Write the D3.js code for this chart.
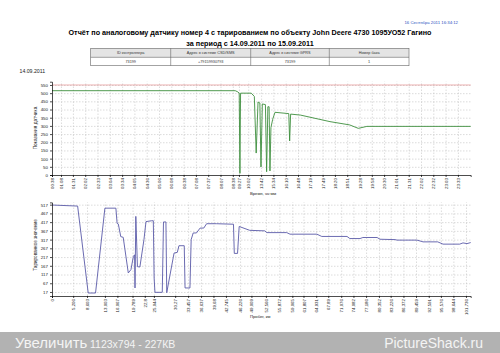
<!DOCTYPE html>
<html lang="ru">
<head>
<meta charset="utf-8">
<title>Отчёт по аналоговому датчику</title>
<script src="https://cdn.jsdelivr.net/npm/d3@7"></script>
<style>
  body { margin: 0; background: #fff; }
  svg { display: block; font-family: "Liberation Sans", Arial, sans-serif; }
  .grid line { stroke: #c4c4c4; stroke-dasharray: 1.5,1.5; stroke-width: 0.6; }
  .grid path { display: none; }
  .ax path, .ax line { stroke: #000; stroke-width: 0.7; }
  .ax text { font-size: 4.4px; fill: #222; }
</style>
</head>
<body>
<script>
// ---- data ----
var reportDate = "16 Сентябрь 2011  16:34:12";
var titleLine1 = "Отчёт по аналоговому датчику номер 4 с тарированием по объекту John Deere 4730 1095УО52 Гагино";
var titleLine2 = "за период с 14.09.2011 по 15.09.2011";
var tableHead = ["ID контроллера", "Адрес в системе CSD/SMS", "Адрес в системе GPRS", "Номер бака"];
var tableRow = ["73199", "+79159930793", "73199", "1"];

// top chart: time axis (labels sit at slot positions along the axis)
var timeLabels = ["00:38","01:08","01:31","02:02","02:33","03:04","03:34","04:05","04:36","05:06",
  "06:08","06:38","07:08","07:37","08:07","08:38","09:27","10:02","13:42","15:34","16:10","16:48",
  "17:19","17:49","18:20","18:51","19:28","19:58","20:30","21:01","21:31","22:02","22:32","23:03","23:33"];
var timeSlots = [0,0.73,1.7,2.7,3.7,4.7,5.7,6.7,7.7,8.7,9.7,10.7,11.7,12.7,13.7,14.7,15.2,15.95,
  17.0,18.0,19.0,20.0,21.0,22.0,23.0,24.0,25.0,26.0,27.0,28.0,29.0,30.0,31.0,32.0,33.0];
var timeMax = 34.04;
var rawTicks = [0,50,100,150,200,250,300,350,400,450,500,550];
var rawLimit = 550;
var rawX = [0,14.9,15.1,15.22,15.28,15.33,16.2,16.45,16.6,16.75,16.9,16.99,17.1,17.35,17.45,17.55,
  17.65,17.72,17.8,17.94,18.13,19.25,19.32,19.4,20.2,22.6,24.2,24.9,25.6,34.04];
var rawY = [515,515,508,500,10,500,500,480,134,446,440,49,434,430,20,417,417,25,290,340,383,375,
  208,372,366,326,306,285,297,297];

// bottom chart: mileage axis
var kmTicks = [0,5.206,8.603,13.003,16.067,19.789,22.8,25.044,30.27,33.457,36.637,39.68,42.745,46.226,
  49.009,52.566,55.872,59.065,61.807,64.931,67.89,71.076,74.082,77.186,80.352,83.226,86.372,89.459,
  92.591,95.576,98.644,101.736];
var kmMax = 102.9;
var calTicks = [17,67,117,167,217,267,317,367,417,467,517];
var calKm = [0,6.3,8.9,10.7,13.0,15.7,16.0,16.3,16.9,17.5,18.75,19.4,20.0,20.3,20.4,20.6,21.0,21.6,
  22.6,23.1,24.5,24.9,25.1,25.3,27.1,27.4,28.0,28.2,30.0,30.8,31.2,32.5,32.7,33.9,34.2,34.7,35.5,
  36.4,37.3,38.0,40.4,44.6,44.8,45.6,46.0,48.6,52.3,52.8,57.7,58.5,65.1,66.3,72.5,73.2,75.7,76.4,
  79.9,80.6,84.3,84.8,89.7,91.2,94.8,96.1,100.2,101.0,102.0,102.9];
var calVal = [515,509,11,11,497,497,410,406,334,330,126,145,221,230,40,450,162,160,317,420,425,425,
  97,15,15,418,418,13,240,244,282,282,40,40,317,355,355,383,383,408,408,405,238,238,392,370,367,
  357,357,348,348,335,335,323,323,329,329,319,317,314,314,304,304,291,291,298,294,300];

// ---- drawing ----
var W = 500, H = 353;
var svg = d3.select("body").append("svg").attr("width", W).attr("height", H);
svg.append("rect").attr("width", W).attr("height", H).attr("fill", "#fff");

svg.append("text").attr("x", 458).attr("y", 23.5).attr("text-anchor", "end")
  .style("font-size", "4.3px").attr("fill", "#2a4fc0").text(reportDate);
svg.append("text").attr("x", 250).attr("y", 35).attr("text-anchor", "middle")
  .style("font-size", "7.2px").style("font-weight", "bold").text(titleLine1);
svg.append("text").attr("x", 250).attr("y", 46).attr("text-anchor", "middle")
  .style("font-size", "7.2px").style("font-weight", "bold").text(titleLine2);

// table
var colEdges = [90.7, 170.7, 250.7, 329.3, 409];
var tb = svg.append("g");
tb.append("rect").attr("x", 90.7).attr("y", 48.3).attr("width", 318.3).attr("height", 9)
  .attr("fill", "#e4e4e4");
tb.append("rect").attr("x", 90.7).attr("y", 48.3).attr("width", 318.3).attr("height", 17.4)
  .attr("fill", "none").attr("stroke", "#666").attr("stroke-width", 0.6);
tb.append("line").attr("x1", 90.7).attr("x2", 409).attr("y1", 57.3).attr("y2", 57.3)
  .attr("stroke", "#666").attr("stroke-width", 0.6);
colEdges.slice(1, 4).forEach(function(x) {
  tb.append("line").attr("x1", x).attr("x2", x).attr("y1", 48.3).attr("y2", 65.7)
    .attr("stroke", "#666").attr("stroke-width", 0.6);
});
tableHead.forEach(function(t, i) {
  var cx = (colEdges[i] + colEdges[i + 1]) / 2;
  tb.append("text").attr("x", cx).attr("y", 54.3).attr("text-anchor", "middle")
    .style("font-size", "3.8px").attr("fill", "#333").text(t);
  tb.append("text").attr("x", cx).attr("y", 63).attr("text-anchor", "middle")
    .style("font-size", "3.8px").attr("fill", "#333").text(tableRow[i]);
});

svg.append("text").attr("x", 19.5).attr("y", 72.5).style("font-size", "5.2px")
  .attr("fill", "#222").text("14.09.2011");

var left = 52, right = 470.7;

// top chart
var x1 = d3.scaleLinear().domain([0, timeMax]).range([left, right]);
var y1 = d3.scaleLinear().domain([0, 570]).range([175, 81.7]);

svg.append("g").attr("class", "grid").attr("transform", "translate(" + left + ",0)")
  .call(d3.axisLeft(y1).tickValues(rawTicks.slice(1)).tickSize(-(right - left)).tickFormat(""));
svg.append("g").attr("class", "grid").attr("transform", "translate(0,175)")
  .call(d3.axisBottom(x1).tickValues(timeSlots.slice(1)).tickSize(-(175 - 81.7)).tickFormat(""));

svg.append("line").attr("x1", left).attr("x2", right)
  .attr("y1", y1(rawLimit)).attr("y2", y1(rawLimit))
  .attr("stroke", "#e08080").attr("stroke-width", 0.6);

var topPts = rawX.map(function(d, i) { return [d, rawY[i]]; });
svg.append("path").datum(topPts)
  .attr("fill", "none").attr("stroke", "#3d8f3d").attr("stroke-width", 0.9)
  .attr("d", d3.line().x(function(d) { return x1(d[0]); }).y(function(d) { return y1(d[1]); }));

svg.append("g").attr("class", "ax").attr("transform", "translate(" + left + ",0)")
  .call(d3.axisLeft(y1).tickValues(rawTicks).tickSize(2).tickPadding(2));
var xa1 = svg.append("g").attr("class", "ax").attr("transform", "translate(0,175)")
  .call(d3.axisBottom(x1).tickValues(timeSlots).tickSize(2)
    .tickFormat(function(d, i) { return timeLabels[i]; }));
xa1.select(".domain").attr("stroke-width", 1.4);
xa1.selectAll("text").attr("transform", "rotate(-90)").attr("text-anchor", "end")
  .attr("x", -3).attr("y", 0).attr("dy", "0.35em");

svg.append("text").attr("transform", "translate(36.5,128) rotate(-90)").attr("text-anchor", "middle")
  .style("font-size", "4.8px").attr("fill", "#222").text("Показания датчика");
svg.append("text").attr("x", 250).attr("y", 195).style("font-size", "4.2px")
  .attr("fill", "#222").text("Время, чч:мм");

// bottom chart
var x2 = d3.scaleLinear().domain([0, kmMax]).range([left, right]);
var y2 = d3.scaleLinear().domain([-6, 530]).range([296, 202.4]);

svg.append("g").attr("class", "grid").attr("transform", "translate(" + left + ",0)")
  .call(d3.axisLeft(y2).tickValues(calTicks).tickSize(-(right - left)).tickFormat(""));
svg.append("g").attr("class", "grid").attr("transform", "translate(0,296)")
  .call(d3.axisBottom(x2).tickValues(kmTicks.slice(1)).tickSize(-(296 - 202.4)).tickFormat(""));

var botPts = calKm.map(function(d, i) { return [d, calVal[i]]; });
svg.append("path").datum(botPts)
  .attr("fill", "none").attr("stroke", "#5a5aa8").attr("stroke-width", 0.9)
  .attr("d", d3.line().x(function(d) { return x2(d[0]); }).y(function(d) { return y2(d[1]); }));

svg.append("g").attr("class", "ax").attr("transform", "translate(" + left + ",0)")
  .call(d3.axisLeft(y2).tickValues(calTicks).tickSize(2).tickPadding(2));
var xa2 = svg.append("g").attr("class", "ax").attr("transform", "translate(0,296)")
  .call(d3.axisBottom(x2).tickValues(kmTicks).tickSize(2)
    .tickFormat(function(d) { return String(d).replace(".", ","); }));
xa2.select(".domain").attr("stroke", "#888").attr("stroke-width", 1.6);
xa2.selectAll("text").attr("transform", "rotate(-90)").attr("text-anchor", "end")
  .attr("x", -3).attr("y", 0).attr("dy", "0.35em");

svg.append("text").attr("transform", "translate(36.5,245) rotate(-90)").attr("text-anchor", "middle")
  .style("font-size", "4.6px").attr("fill", "#222").text("Тарированное значение");
svg.append("text").attr("x", 250).attr("y", 318).style("font-size", "4.2px")
  .attr("fill", "#222").text("Пробег, км");

// viewer bar
svg.append("rect").attr("x", 0).attr("y", 332).attr("width", W).attr("height", 21).attr("fill", "#b2b2b2");
svg.append("text").attr("x", 15).attr("y", 348).style("font-size", "15px").attr("fill", "#f4f4f4")
  .text("Увеличить");
svg.append("text").attr("x", 90).attr("y", 347.5).style("font-size", "10.5px").attr("fill", "#f4f4f4")
  .text("1123x794 - 227КВ");
svg.append("text").attr("x", 483).attr("y", 348).attr("text-anchor", "end").style("font-size", "14px")
  .attr("fill", "#f4f4f4").text("PictureShack.ru");
</script>
</body>
</html>
